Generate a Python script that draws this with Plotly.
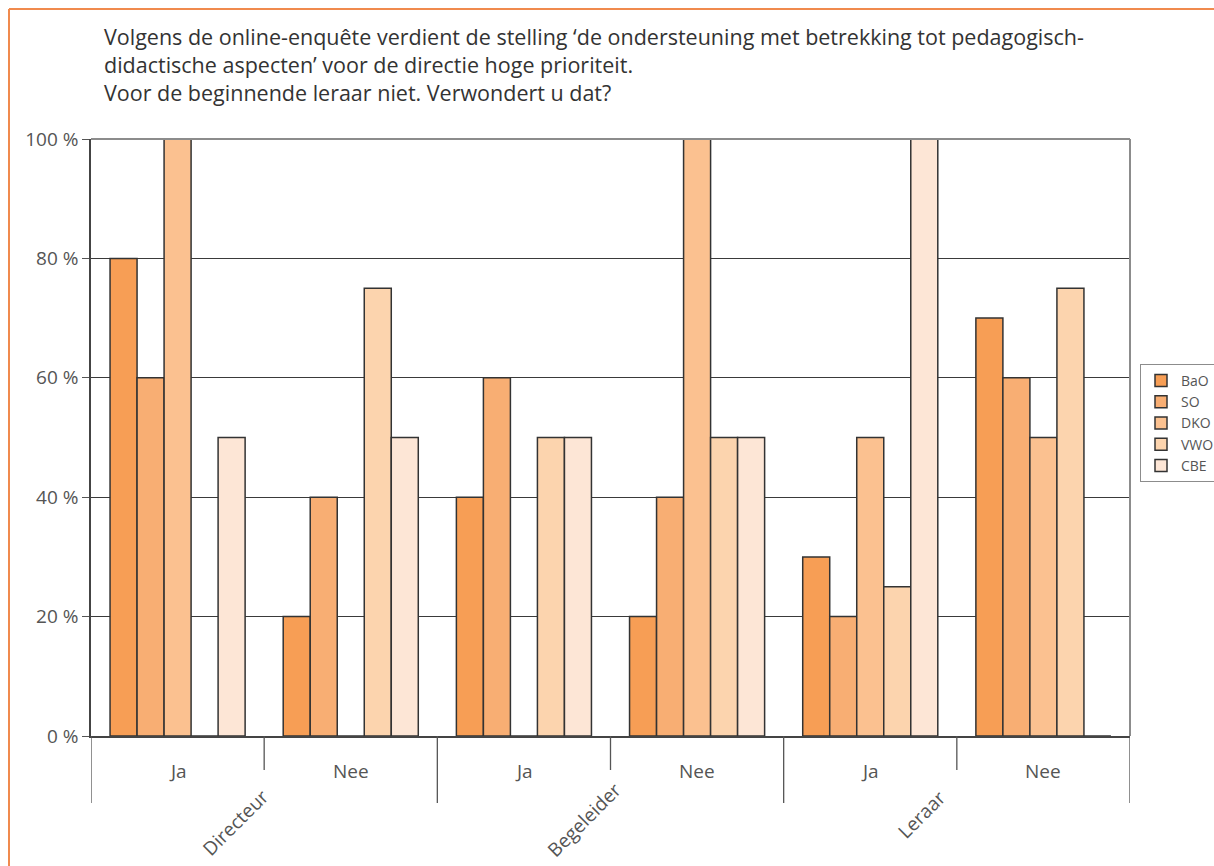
import plotly.graph_objects as go

series = ["BaO", "SO", "DKO", "VWO", "CBE"]
groups = ["Directeur", "Begeleider", "Leraar"]
answers = ["Ja", "Nee", "Ja", "Nee", "Ja", "Nee"]
values = {
    "BaO": [80, 20, 40, 20, 30, 70],
    "SO":  [60, 40, 60, 40, 20, 60],
    "DKO": [100, 0, 0, 100, 50, 50],
    "VWO": [0, 75, 50, 50, 25, 75],
    "CBE": [50, 50, 50, 50, 100, 0],
}
colors = ["#F79E55", "#F8AE73", "#FBC190", "#FCD4AE", "#FDE6D6"]
yticks = [0, 20, 40, 60, 80, 100]
yticktext = ["0 %", "20 %", "40 %", "60 %", "80 %", "100 %"]

FONT = "Open Sans"
TXT = "#555555"

fig = go.Figure()
xs = list(range(len(answers)))
for s, c in zip(series, colors):
    fig.add_trace(go.Bar(
        x=xs, y=values[s], name=s,
        marker=dict(color=c, line=dict(color="#333333", width=1.5)),
    ))

W, H = 1214, 866
L, R, T, B = 91, 1130, 139, 736
pw, ph = R - L, B - T

def px_x(p):
    return (p - L) / pw

def px_y(p):
    return (B - p) / ph

shapes = []
# top & right frame (gray)
shapes.append(dict(type="line", xref="paper", yref="paper", x0=0, x1=1, y0=1, y1=1,
                   line=dict(color="#8C8C8C", width=2)))
shapes.append(dict(type="line", xref="paper", yref="paper", x0=1, x1=1, y0=0, y1=1,
                   line=dict(color="#8C8C8C", width=2)))
# category dividers
for i in range(7):
    xb = -0.5 + i
    long = (i % 2 == 0)
    y1 = px_y(803) if long else px_y(770)
    shapes.append(dict(type="line", xref="x", yref="paper", x0=xb, x1=xb, y0=0, y1=y1,
                       line=dict(color="#555555", width=1.3)))
# page orange border
shapes.append(dict(type="line", xref="paper", yref="paper", x0=px_x(9), x1=px_x(1214),
                   y0=px_y(9), y1=px_y(9), line=dict(color="#F08A4E", width=2)))
shapes.append(dict(type="line", xref="paper", yref="paper", x0=px_x(9), x1=px_x(9),
                   y0=px_y(9), y1=px_y(866), line=dict(color="#F08A4E", width=2)))

annotations = []
for i, a in enumerate(answers):
    annotations.append(dict(x=i, xref="x", y=0, yref="paper", yshift=-35, yanchor="middle",
                            text=a, showarrow=False,
                            font=dict(family=FONT, size=19, color=TXT)))
group_centers = [(235, 823), (584, 820), (921, 815)]
for g, (cx, cy) in zip(groups, group_centers):
    annotations.append(dict(x=px_x(cx), xref="paper", y=px_y(cy), yref="paper", text=g,
                            textangle=-45, showarrow=False, xanchor="center", yanchor="middle",
                            font=dict(family=FONT, size=19, color=TXT)))
title = ("Volgens de online-enquête verdient de stelling ‘de ondersteuning met betrekking tot pedagogisch-<br>"
         "didactische aspecten’ voor de directie hoge prioriteit.<br>"
         "Voor de beginnende leraar niet. Verwondert u dat?")
annotations.append(dict(x=px_x(102), xref="paper", y=px_y(20), yref="paper", text=title,
                        align="left", xanchor="left", yanchor="top", showarrow=False,
                        font=dict(family=FONT, size=21.5, color="#333333")))

fig.update_layout(
    width=W, height=H,
    margin=dict(l=L, r=W - R, t=T, b=H - B, autoexpand=False),
    paper_bgcolor="white", plot_bgcolor="white",
    barmode="group", bargap=0.22, bargroupgap=0,
    showlegend=True,
    legend=dict(x=px_x(1140), y=px_y(364), xanchor="left", yanchor="top",
                bordercolor="#8C8C8C", borderwidth=1, bgcolor="white",
                font=dict(family=FONT, size=14, color=TXT),
                tracegroupgap=0, itemwidth=30),
    xaxis=dict(range=[-0.5, 5.5], showticklabels=False, showgrid=False, zeroline=False,
               showline=True, linecolor="#444444", linewidth=1.5, ticks=""),
    yaxis=dict(range=[0, 100], tickmode="array", tickvals=yticks, ticktext=yticktext,
               showgrid=True, gridcolor="#3A3A3A", gridwidth=1, zeroline=False,
               showline=True, linecolor="#444444", linewidth=1.5,
               ticks="outside", ticklen=7, tickcolor="#555555",
               tickfont=dict(family=FONT, size=19, color=TXT)),
    shapes=shapes, annotations=annotations,
)

fig.write_html("out.html")
